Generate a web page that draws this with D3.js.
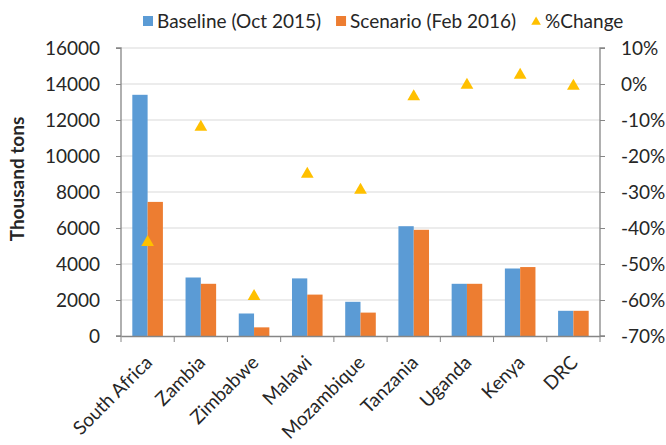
<!DOCTYPE html>
<html>
<head>
<meta charset="utf-8">
<script src="https://cdn.jsdelivr.net/npm/d3@7"></script>
<style>
  body { margin: 0; background: #fff; }
  text { font-family: Lato, "Open Sans", sans-serif; fill: #262626; }
</style>
</head>
<body>
<div id="chart"></div>
<script>
// chart data
var countries = ["South Africa", "Zambia", "Zimbabwe", "Malawi", "Mozambique", "Tanzania", "Uganda", "Kenya", "DRC"];
var baseline = [13400, 3250, 1250, 3200, 1900, 6100, 2900, 3750, 1400];
var scenario = [7450, 2900, 480, 2300, 1300, 5900, 2900, 3830, 1400];
var pctChange = [-44, -12, -59, -25, -29.5, -3.5, -0.3, 2.5, -0.6];
var leftTicks = [0, 2000, 4000, 6000, 8000, 10000, 12000, 14000, 16000];
var rightTicks = [-70, -60, -50, -40, -30, -20, -10, 0, 10];

var width = 666, height = 445;
var plotLeft = 121, plotRight = 600, plotTop = 48, plotBottom = 336;
var fontSize = "19px";

var svg = d3.select("#chart").append("svg")
  .attr("width", width)
  .attr("height", height);

// scales
var x = d3.scaleBand().domain(countries).range([plotLeft, plotRight]).padding(0);
var x1 = d3.scaleBand().domain(["b", "s"]).range([0, x.bandwidth()])
  .paddingInner(0).paddingOuter(0.74);
var y = d3.scaleLinear().domain([0, 16000]).range([plotBottom, plotTop]);
var y2 = d3.scaleLinear().domain([-70, 10]).range([plotBottom, plotTop]);

// gridlines
svg.append("g")
  .selectAll("line")
  .data(leftTicks.slice(1))
  .enter().append("line")
  .attr("x1", plotLeft).attr("x2", plotRight)
  .attr("y1", function(d) { return y(d); })
  .attr("y2", function(d) { return y(d); })
  .attr("stroke", "#d9d9d9")
  .attr("stroke-width", 1);

// bars
var groups = svg.append("g").selectAll("g")
  .data(countries)
  .enter().append("g")
  .attr("transform", function(d) { return "translate(" + x(d) + ",0)"; });

groups.append("rect")
  .attr("x", x1("b"))
  .attr("width", x1.bandwidth())
  .attr("y", function(d, i) { return y(baseline[i]); })
  .attr("height", function(d, i) { return y(0) - y(baseline[i]); })
  .attr("fill", "#5b9bd5");

groups.append("rect")
  .attr("x", x1("s"))
  .attr("width", x1.bandwidth())
  .attr("y", function(d, i) { return y(scenario[i]); })
  .attr("height", function(d, i) { return y(0) - y(scenario[i]); })
  .attr("fill", "#ed7d31");

// axes
var axisColor = "#868686";

var yAxis = svg.append("g")
  .attr("transform", "translate(" + plotLeft + ",0)")
  .call(d3.axisLeft(y).tickValues(leftTicks).tickSize(5).tickPadding(16).tickFormat(d3.format("d")));

var y2Axis = svg.append("g")
  .attr("transform", "translate(" + plotRight + ",0)")
  .call(d3.axisRight(y2).tickValues(rightTicks).tickSize(5).tickPadding(16)
    .tickFormat(function(d) { return d + "%"; }));

var xAxis = svg.append("g")
  .attr("transform", "translate(0," + plotBottom + ")")
  .call(d3.axisBottom(x).tickSize(0).tickFormat(""));

// category separator ticks
xAxis.selectAll(".sep")
  .data(countries.concat(["end"]))
  .enter().append("line")
  .attr("class", "sep")
  .attr("x1", function(d, i) { return plotLeft + i * x.step(); })
  .attr("x2", function(d, i) { return plotLeft + i * x.step(); })
  .attr("y1", 0).attr("y2", 6)
  .attr("stroke", axisColor);

[yAxis, y2Axis, xAxis].forEach(function(a) {
  a.select(".domain").attr("stroke", axisColor).attr("stroke-width", 1.3);
  a.selectAll(".tick line").attr("stroke", axisColor);
  a.selectAll("text").style("font-size", fontSize).style("font-family", "Lato, sans-serif").attr("fill", "#262626");
});
yAxis.select(".domain").attr("d", "M-5," + plotTop + "H0V" + plotBottom + "H-5");
y2Axis.select(".domain").attr("d", "M5," + plotTop + "H0V" + plotBottom + "H5");

// rotated category labels
svg.append("g").selectAll("text")
  .data(countries)
  .enter().append("text")
  .attr("transform", function(d) {
    return "translate(" + (x(d) + x.bandwidth() / 2 + 1) + "," + (plotBottom + 23) + ") rotate(-45)";
  })
  .attr("text-anchor", "end")
  .attr("dy", "0.35em")
  .style("font-size", fontSize)
  .text(function(d) { return d; });

// percent change markers
var tri = d3.symbol().type(d3.symbolTriangle).size(70);
svg.append("g").selectAll("path")
  .data(countries)
  .enter().append("path")
  .attr("d", tri)
  .attr("transform", function(d, i) {
    return "translate(" + (x(d) + x.bandwidth() / 2) + "," + y2(pctChange[i]) + ")";
  })
  .attr("fill", "#ffc000");

// y axis title
svg.append("text")
  .attr("transform", "translate(24,179) rotate(-90)")
  .attr("text-anchor", "middle")
  .style("font-size", fontSize)
  .style("font-weight", "bold")
  .text("Thousand tons");

// legend
var legendItems = [
  { label: "Baseline (Oct 2015)", color: "#5b9bd5", shape: "rect" },
  { label: "Scenario (Feb 2016)", color: "#ed7d31", shape: "rect" },
  { label: "%Change", color: "#ffc000", shape: "tri" }
];
var legend = svg.append("g").attr("class", "legend");
var lx = 143;
legendItems.forEach(function(d) {
  var g = legend.append("g").attr("transform", "translate(" + lx + ",21)");
  if (d.shape === "rect") {
    g.append("rect").attr("x", 0).attr("y", -5).attr("width", 10).attr("height", 10).attr("fill", d.color);
  } else {
    g.append("path").attr("d", d3.symbol().type(d3.symbolTriangle).size(40))
      .attr("transform", "translate(5,1)").attr("fill", d.color);
  }
  var t = g.append("text")
    .attr("x", 14)
    .attr("dy", "0.35em")
    .style("font-size", fontSize)
    .text(d.label);
  lx += 14 + t.node().getComputedTextLength() + 15;
});
</script>
</body>
</html>
